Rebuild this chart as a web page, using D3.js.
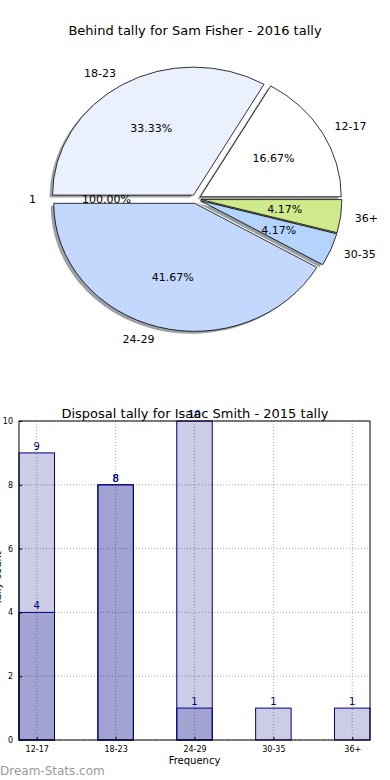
<!DOCTYPE html>
<html><head><meta charset="utf-8">
<script src="https://cdn.jsdelivr.net/npm/d3@7"></script>
<style>
html,body{margin:0;padding:0;background:#fff;}
svg{display:block;font-family:"DejaVu Sans",sans-serif;}
</style></head>
<body>
<svg id="c" width="390" height="780"></svg>
<script>
// ---- Pie data ----
const pieTitle = "Behind tally for Sam Fisher - 2016 tally";
const pieLabels = ["12-17", "18-23", "1", "24-29", "30-35", "36+"];
const pieValues = [4, 8, 0, 10, 1, 1];
const piePcts = ["16.67%", "33.33%", "100.00%", "41.67%", "4.17%", "4.17%"];
const pieColors = ["#ffffff", "#eaf1fd", "#ffffff", "#c4d8fe", "#b4d4fd", "#cfea8b"];

// ---- Bar data ----
const barTitle = "Disposal tally for Isaac Smith - 2015 tally";
const barCategories = ["12-17", "18-23", "24-29", "30-35", "36+"];
const seriesA = [9, 8, 10, 1, 1];
const seriesB = [4, 8, 1];
const yTicks = [0, 2, 4, 6, 8, 10];

const svg = d3.select("#c");

// ================= PIE =================
svg.append("text").attr("x", 195).attr("y", 35).attr("text-anchor", "middle")
  .attr("font-size", 13).text(pieTitle);

const cx = 196, cy = 199, rx = 141, ry = 128, explode = 0.035;
const pie = d3.pie().sort(null).value(d => d).startAngle(Math.PI / 2).endAngle(Math.PI / 2 - 2 * Math.PI);
const arcsData = pie(pieValues);
const arc = d3.arc().innerRadius(0).outerRadius(rx);
const sy = ry / rx;

function dir(a) { return [Math.sin(a), -Math.cos(a)]; }
const slices = arcsData.map((d, i) => {
  const m = (d.startAngle + d.endAngle) / 2;
  const [ux, uy] = dir(m);
  return { d, i, m, ux, uy, ox: explode * rx * ux, oy: explode * ry * uy };
});

// shadows
const shadowG = svg.append("g");
slices.forEach(s => {
  if (s.d.value === 0) return;
  const c = d3.rgb(pieColors[s.i]);
  shadowG.append("path")
    .attr("transform", `translate(${cx + s.ox - 3},${cy + s.oy + 2.5}) scale(1,${sy})`)
    .attr("d", arc(s.d))
    .attr("fill", d3.rgb(c.r * 0.3, c.g * 0.3, c.b * 0.3))
    .attr("fill-opacity", 0.5);
});
// wedges
const wedgeG = svg.append("g");
slices.forEach(s => {
  if (s.d.value === 0) return;
  wedgeG.append("path")
    .attr("transform", `translate(${cx + s.ox},${cy + s.oy}) scale(1,${sy})`)
    .attr("d", arc(s.d))
    .attr("fill", pieColors[s.i])
    .attr("stroke", "#000").attr("stroke-width", 0.8)
    .attr("vector-effect", "non-scaling-stroke");
});
// labels
slices.forEach(s => {
  const lx = cx + s.ox + 1.1 * rx * s.ux, ly = cy + s.oy + 1.1 * ry * s.uy;
  svg.append("text").attr("x", lx).attr("y", ly).attr("dy", "0.35em")
    .attr("text-anchor", s.ux > 0 ? "start" : "end")
    .attr("font-size", 11).text(pieLabels[s.i]);
  const px = cx + s.ox + 0.6 * rx * s.ux, py = cy + s.oy + 0.6 * ry * s.uy;
  svg.append("text").attr("x", px).attr("y", py).attr("dy", "0.35em")
    .attr("text-anchor", "middle").attr("font-size", 11).text(piePcts[s.i]);
});

// ================= BAR =================
const L = 19, R = 370, T = 421, B = 740;
const barW = 0.45;
const x = d3.scaleLinear().domain([-barW / 2, barCategories.length - 1 + barW / 2]).range([L, R]);
const y = d3.scaleLinear().domain([0, 10]).range([B, T]);

const g = svg.append("g");
// grid
g.selectAll(".gx").data(barCategories).join("line")
  .attr("x1", (d, i) => x(i)).attr("x2", (d, i) => x(i)).attr("y1", T).attr("y2", B)
  .attr("stroke", "#a8a8a8").attr("stroke-dasharray", "1,2").attr("stroke-width", 1);
g.selectAll(".gy").data(yTicks).join("line")
  .attr("x1", L).attr("x2", R).attr("y1", d => y(d)).attr("y2", d => y(d))
  .attr("stroke", "#a8a8a8").attr("stroke-dasharray", "1,2").attr("stroke-width", 1);

function drawSeries(vals) {
  g.selectAll(null).data(vals).join("rect")
    .attr("x", (d, i) => x(i - barW / 2)).attr("width", x(barW) - x(0))
    .attr("y", d => y(d)).attr("height", d => B - y(d))
    .attr("fill", "navy").attr("fill-opacity", 0.2)
    .attr("stroke", "navy").attr("stroke-width", 1);
  g.selectAll(null).data(vals).join("text")
    .attr("x", (d, i) => x(i)).attr("y", d => y(d) - 3)
    .attr("text-anchor", "middle").attr("font-size", 10).attr("fill", "navy")
    .text(d => d);
}
drawSeries(seriesA);
drawSeries(seriesB);

// axes frame
g.append("rect").attr("x", L).attr("y", T).attr("width", R - L).attr("height", B - T)
  .attr("fill", "none").attr("stroke", "#000").attr("stroke-width", 1);

// y ticks
const yAxis = d3.axisLeft(y).tickValues(yTicks).tickSize(-3).tickPadding(6).tickFormat(d3.format("d"));
const ya = svg.append("g").attr("transform", `translate(${L},0)`).call(yAxis);
ya.select(".domain").remove();
ya.selectAll("text").attr("font-size", 8).attr("font-family", "DejaVu Sans").attr("fill", "#000");
ya.selectAll("line").attr("stroke", "#000");

// x ticks
const xAxis = d3.axisBottom(x).tickValues(d3.range(barCategories.length)).tickSize(-3).tickPadding(6)
  .tickFormat(i => barCategories[i]);
const xa = svg.append("g").attr("transform", `translate(0,${B})`).call(xAxis);
xa.select(".domain").remove();
xa.selectAll("text").attr("font-size", 8).attr("font-family", "DejaVu Sans").attr("fill", "#000");
xa.selectAll("line").attr("stroke", "#000");

svg.append("text").attr("x", 195).attr("y", 418).attr("text-anchor", "middle")
  .attr("font-size", 13).text(barTitle);
svg.append("text").attr("x", (L + R) / 2).attr("y", 764).attr("text-anchor", "middle")
  .attr("font-size", 10).text("Frequency");
svg.append("text").attr("transform", "translate(0.5,578) rotate(-90)")
  .attr("text-anchor", "middle").attr("font-size", 10).text("Tally count");

svg.append("text").attr("x", 0).attr("y", 775).attr("font-size", 12)
  .attr("fill", "#999").text("Dream-Stats.com");
</script>
</body></html>
